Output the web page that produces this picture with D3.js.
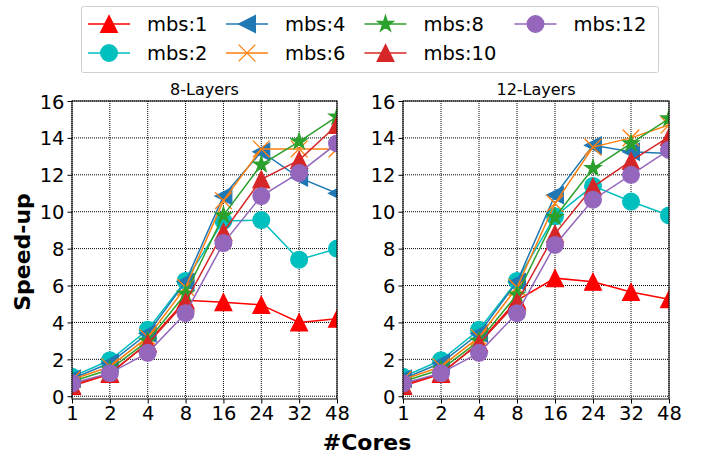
<!DOCTYPE html>
<html>
<head>
<meta charset="utf-8">
<script src="https://cdn.jsdelivr.net/npm/d3@7"></script>
<style>
  html, body { margin: 0; padding: 0; background: #fff; }
  svg { display: block; font-family: "DejaVu Sans", sans-serif; }
</style>
</head>
<body>
<svg id="chart" width="702" height="460"></svg>
<script>
// Core counts on the x axis (categorical, evenly spaced)
const cores = ["1", "2", "4", "8", "16", "24", "32", "48"];
const yTicks = [0, 2, 4, 6, 8, 10, 12, 14, 16];

const seriesNames = ["mbs:1", "mbs:2", "mbs:4", "mbs:6", "mbs:8", "mbs:10", "mbs:12"];
const seriesColors = ["#ff0000", "#00bfbf", "#1f77b4", "#ff7f0e", "#2ca02c", "#d62728", "#9467bd"];
const seriesMarkers = ["triangle", "circle", "left", "x", "star", "triangle", "circle"];

// Speed-up, 8-layer model
const layers8 = [
  [0.55, 1.2, 2.9, 5.2, 5.1, 4.95, 4.0, 4.2],
  [1.05, 1.95, 3.6, 6.25, 9.5, 9.55, 7.4, 8.0],
  [0.95, 1.8, 3.4, 6.2, 10.85, 13.25, 11.85, 11.0],
  [0.9, 1.6, 3.2, 5.9, 10.6, 13.4, 13.4, 13.4],
  [0.8, 1.45, 3.0, 5.55, 9.8, 12.55, 13.8, 15.15],
  [0.6, 1.25, 2.85, 5.1, 8.9, 11.75, 12.8, 14.7],
  [0.7, 1.25, 2.35, 4.5, 8.3, 10.85, 12.1, 13.7]
];

// Speed-up, 12-layer model
const layers12 = [
  [0.55, 1.2, 2.9, 5.2, 6.4, 6.2, 5.65, 5.25],
  [1.05, 1.95, 3.6, 6.25, 9.75, 11.4, 10.55, 9.8],
  [0.95, 1.8, 3.4, 6.2, 10.9, 13.6, 13.25, 13.15],
  [0.9, 1.6, 3.2, 5.9, 10.45, 13.5, 14.0, 14.7],
  [0.8, 1.45, 3.0, 5.5, 9.7, 12.35, 13.7, 15.05],
  [0.6, 1.25, 2.85, 5.1, 8.8, 11.35, 12.75, 14.05],
  [0.7, 1.25, 2.35, 4.5, 8.2, 10.65, 12.0, 13.35]
];

const panels = [
  { title: "8-Layers", data: layers8, x0: 72, x1: 337 },
  { title: "12-Layers", data: layers12, x0: 403, x1: 669 }
];

const svg = d3.select("#chart");
const yTop = 101, yBottom = 399;
const ms = 16.7; // marker size in px

// Marker path generator (centred on 0,0)
function markerPath(kind, s) {
  const h = s / 2;
  switch (kind) {
    case "triangle": return `M0,${-h}L${h},${h}L${-h},${h}Z`;
    case "left": return `M${-h},0L${h},${-h}L${h},${h}Z`;
    case "x": return `M${-h},${-h}L${h},${h}M${-h},${h}L${h},${-h}`;
    case "star": {
      let p = "";
      for (let i = 0; i < 10; i++) {
        const r = i % 2 === 0 ? h : h * 0.381966;
        const a = -Math.PI / 2 + i * Math.PI / 5;
        p += (i ? "L" : "M") + (r * Math.cos(a)).toFixed(2) + "," + (r * Math.sin(a)).toFixed(2);
      }
      return p + "Z";
    }
    default: return d3.symbol(d3.symbolCircle, Math.PI * h * h)();
  }
}

function drawMarker(g, kind, color, x, y) {
  const p = g.append("path")
    .attr("d", markerPath(kind, ms))
    .attr("transform", `translate(${x},${y})`);
  if (kind === "x") {
    p.attr("fill", "none").attr("stroke", color).attr("stroke-width", 1.3);
  } else {
    p.attr("fill", color).attr("stroke", color).attr("stroke-width", 1.3).attr("stroke-linejoin", "miter");
  }
}

panels.forEach((pn, pi) => {
  const x = d3.scalePoint().domain(cores).range([pn.x0, pn.x1]).padding(0);
  const y = d3.scaleLinear().domain([-0.15, 16]).range([yBottom, yTop]);
  const g = svg.append("g");

  const clipId = "clip" + pi;
  svg.append("clipPath").attr("id", clipId)
    .append("rect").attr("x", pn.x0).attr("y", yTop)
    .attr("width", pn.x1 - pn.x0).attr("height", yBottom - yTop);

  // dotted grid
  const grid = g.append("g").attr("stroke", "#000").attr("stroke-width", 1)
    .attr("stroke-dasharray", "1,1");
  cores.forEach(c => grid.append("line")
    .attr("x1", x(c)).attr("x2", x(c)).attr("y1", yTop).attr("y2", yBottom));
  yTicks.forEach(t => grid.append("line")
    .attr("x1", pn.x0).attr("x2", pn.x1).attr("y1", y(t)).attr("y2", y(t)));

  // series
  const plot = g.append("g").attr("clip-path", `url(#${clipId})`);
  pn.data.forEach((vals, si) => {
    const line = d3.line().x((d, i) => x(cores[i])).y(d => y(d));
    plot.append("path").datum(vals)
      .attr("d", line).attr("fill", "none")
      .attr("stroke", seriesColors[si]).attr("stroke-width", 1.5);
    vals.forEach((v, i) => drawMarker(plot, seriesMarkers[si], seriesColors[si], x(cores[i]), y(v)));
  });

  // frame
  g.append("rect").attr("x", pn.x0).attr("y", yTop)
    .attr("width", pn.x1 - pn.x0).attr("height", yBottom - yTop)
    .attr("fill", "none").attr("stroke", "#000").attr("stroke-width", 1);

  // axes
  const xAxis = d3.axisBottom(x).tickSizeOuter(0).tickSize(4.5).tickPadding(3);
  const gx = g.append("g").attr("transform", `translate(0,${yBottom})`).call(xAxis);
  const yAxis = d3.axisLeft(y).tickValues(yTicks).tickSizeOuter(0).tickSize(4.5).tickPadding(3);
  const gy = g.append("g").attr("transform", `translate(${pn.x0},0)`).call(yAxis);
  [gx, gy].forEach(a => {
    a.select(".domain").remove();
    a.selectAll("text").attr("font-size", "19.5px").attr("fill", "#000")
      .attr("font-family", "DejaVu Sans");
    a.selectAll("line").attr("stroke", "#000");
  });
  gy.selectAll("text").attr("dy", "0.36em");

  // panel title
  g.append("text").attr("x", (pn.x0 + pn.x1) / 2).attr("y", yTop - 6)
    .attr("text-anchor", "middle").attr("font-size", "16px").text(pn.title);
});

// axis labels
svg.append("text").attr("x", 367).attr("y", 450).attr("text-anchor", "middle")
  .attr("font-size", "22px").attr("font-weight", "bold").text("#Cores");
svg.append("text").attr("transform", "translate(30,252) rotate(-90)")
  .attr("text-anchor", "middle").attr("font-size", "22px").attr("font-weight", "bold").text("Speed-up");

// legend
const legend = svg.append("g");
legend.append("rect").attr("x", 81.5).attr("y", 6.5).attr("width", 577).attr("height", 66)
  .attr("rx", 2).attr("fill", "#fff").attr("stroke", "#d0d0d0").attr("stroke-width", 1);
const colX = [88, 226, 364.5, 514.5];
const rowY = [24, 53];
seriesNames.forEach((name, i) => {
  const col = Math.floor(i / 2), row = i % 2;
  const lx = colX[col], ly = rowY[row];
  legend.append("line").attr("x1", lx).attr("x2", lx + 42).attr("y1", ly).attr("y2", ly)
    .attr("stroke", seriesColors[i]).attr("stroke-width", 1.5);
  drawMarker(legend, seriesMarkers[i], seriesColors[i], lx + 21, ly);
  legend.append("text").attr("x", lx + 59).attr("y", ly).attr("dy", "0.36em")
    .attr("font-size", "19.5px").text(name);
});
</script>
</body>
</html>
